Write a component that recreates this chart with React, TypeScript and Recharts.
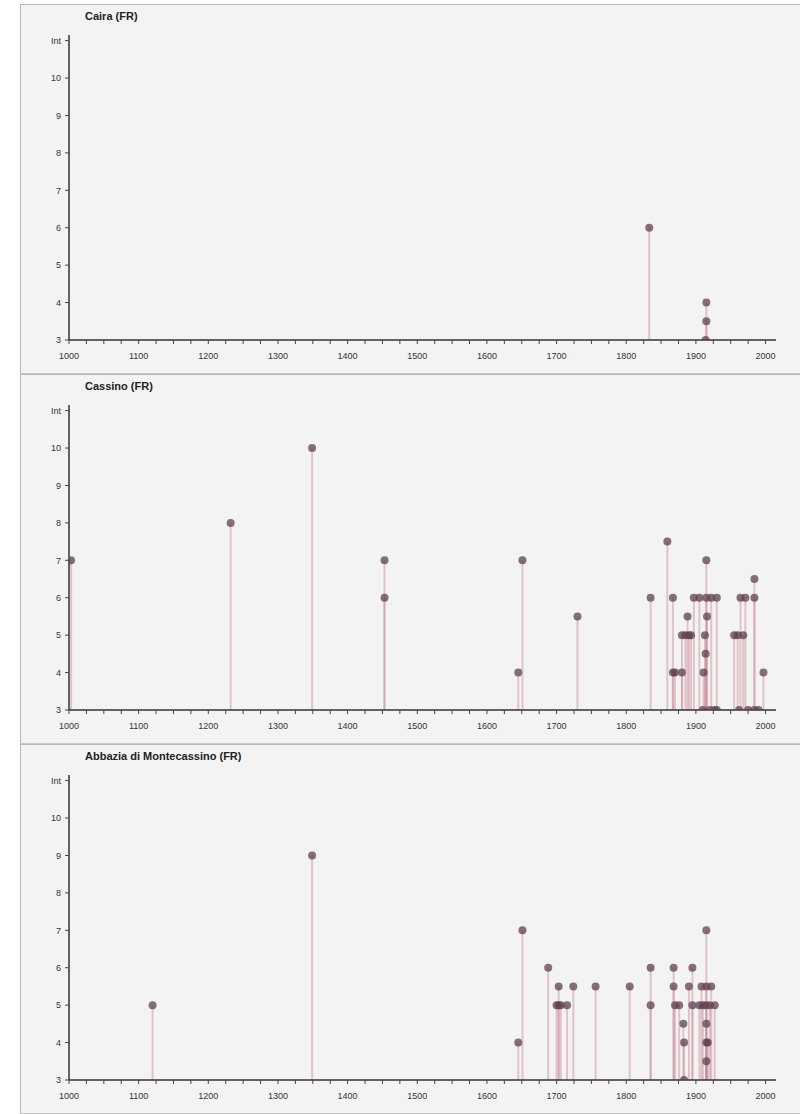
import React from "react";
import {
  ScatterChart,
  Scatter,
  XAxis,
  YAxis,
  ErrorBar,
} from "recharts";

// intensity histories (year, intensity)
const cairaYears = [1833, 1915, 1915, 1914];
const cairaValues = [6, 4, 3.5, 3];

const cassinoYears = [
  1003, 1232, 1349, 1453, 1453, 1645, 1651, 1730, 1835, 1859,
  1867, 1867, 1870, 1880, 1880, 1885, 1888, 1890, 1893, 1897,
  1905, 1910, 1911, 1913, 1914, 1915, 1915, 1916, 1920, 1922,
  1927, 1930, 1930, 1955, 1960, 1962, 1964, 1968, 1971, 1975,
  1984, 1984, 1984, 1990, 1997,
];
const cassinoValues = [
  7, 8, 10, 7, 6, 4, 7, 5.5, 6, 7.5,
  6, 4, 4, 5, 4, 5, 5.5, 5, 5, 6,
  6, 3, 4, 5, 4.5, 7, 6, 5.5, 3, 6,
  3, 6, 3, 5, 5, 3, 6, 5, 6, 3,
  6.5, 6, 3, 3, 4,
];

const montecassinoYears = [
  1120, 1349, 1645, 1651, 1688, 1700, 1703, 1703, 1706, 1715,
  1724, 1756, 1805, 1835, 1835, 1868, 1868, 1870, 1876, 1882,
  1883, 1883, 1890, 1895, 1895, 1905, 1908, 1910, 1915, 1915,
  1915, 1915, 1915, 1915, 1917, 1920, 1922, 1927,
];
const montecassinoValues = [
  5, 9, 4, 7, 6, 5, 5.5, 5, 5, 5,
  5.5, 5.5, 5.5, 6, 5, 6, 5.5, 5, 5, 4.5,
  4, 3, 5.5, 6, 5, 5, 5.5, 5, 7, 5.5,
  5, 4.5, 4, 3.5, 4, 5, 5.5, 5,
];

const yTicks = [3, 4, 5, 6, 7, 8, 9, 10, 11];
const xTicks = [
  1000, 1025, 1050, 1075, 1100, 1125, 1150, 1175, 1200, 1225, 1250,
  1275, 1300, 1325, 1350, 1375, 1400, 1425, 1450, 1475, 1500, 1525,
  1550, 1575, 1600, 1625, 1650, 1675, 1700, 1725, 1750, 1775, 1800,
  1825, 1850, 1875, 1900, 1925, 1950, 1975, 2000,
];

const BASE = 3;
const FONT = "'Liberation Sans', Arial, sans-serif";

function Dot(props: any) {
  const { cx, cy } = props;
  if (cx == null || cy == null) return null;
  return <circle cx={cx} cy={cy} r={4} fill="#604050" fillOpacity={0.75} />;
}

function Panel({
  title,
  years,
  values,
}: {
  title: string;
  years: number[];
  values: number[];
}) {
  const data = years.map((x, i) => ({
    x,
    y: values[i],
    err: [values[i] - BASE, 0],
  }));

  return (
    <div
      style={{
        position: "relative",
        marginLeft: 20,
        width: 780,
        height: 368,
        background: "#f3f3f3",
        borderTop: "1px solid #b8b8b8",
        borderBottom: "1px solid #c8c8c8",
        borderLeft: "1px solid #b8b8b8",
      }}
    >
      <div
        style={{
          position: "absolute",
          left: 64,
          top: 5,
          fontFamily: FONT,
          fontWeight: "bold",
          fontSize: 11,
          color: "#222",
        }}
      >
        {title}
      </div>
      <ScatterChart
        width={779}
        height={368}
        margin={{ top: 30, right: 24, bottom: 8, left: 8 }}
      >
        <XAxis
          type="number"
          dataKey="x"
          domain={[1000, 2015]}
          ticks={xTicks}
          interval={0}
          allowDataOverflow
          tickFormatter={(v: number) => (v % 100 === 0 ? String(v) : "")}
          tick={{ fontSize: 9, fill: "#333", fontFamily: FONT }}
          tickSize={4}
          tickMargin={9}
          axisLine={{ stroke: "#333", strokeWidth: 1.5 }}
          tickLine={{ stroke: "#444" }}
          height={25}
        />
        <YAxis
          type="number"
          dataKey="y"
          domain={[3, 11.15]}
          ticks={yTicks}
          interval={0}
          allowDataOverflow
          tickFormatter={(v: number) => (v === 11 ? "Int" : String(v))}
          tick={{ fontSize: 9, fill: "#333", fontFamily: FONT }}
          tickSize={4}
          tickMargin={4}
          axisLine={{ stroke: "#333", strokeWidth: 1.5 }}
          tickLine={{ stroke: "#444" }}
          width={40}
        />
        <Scatter data={data} shape={Dot} isAnimationActive={false}>
          <ErrorBar
            dataKey="err"
            direction="y"
            width={0}
            stroke="#c98a96"
            strokeOpacity={0.45}
            strokeWidth={2}
            isAnimationActive={false}
          />
        </Scatter>
      </ScatterChart>
    </div>
  );
}

export default function App() {
  return (
    <div
      style={{
        position: "absolute",
        left: 0,
        top: 0,
        width: 800,
        height: 1114,
        background: "#fff",
        paddingTop: 4,
        boxSizing: "border-box",
      }}
    >
      <Panel title="Caira (FR)" years={cairaYears} values={cairaValues} />
      <Panel title="Cassino (FR)" years={cassinoYears} values={cassinoValues} />
      <Panel
        title="Abbazia di Montecassino (FR)"
        years={montecassinoYears}
        values={montecassinoValues}
      />
    </div>
  );
}
